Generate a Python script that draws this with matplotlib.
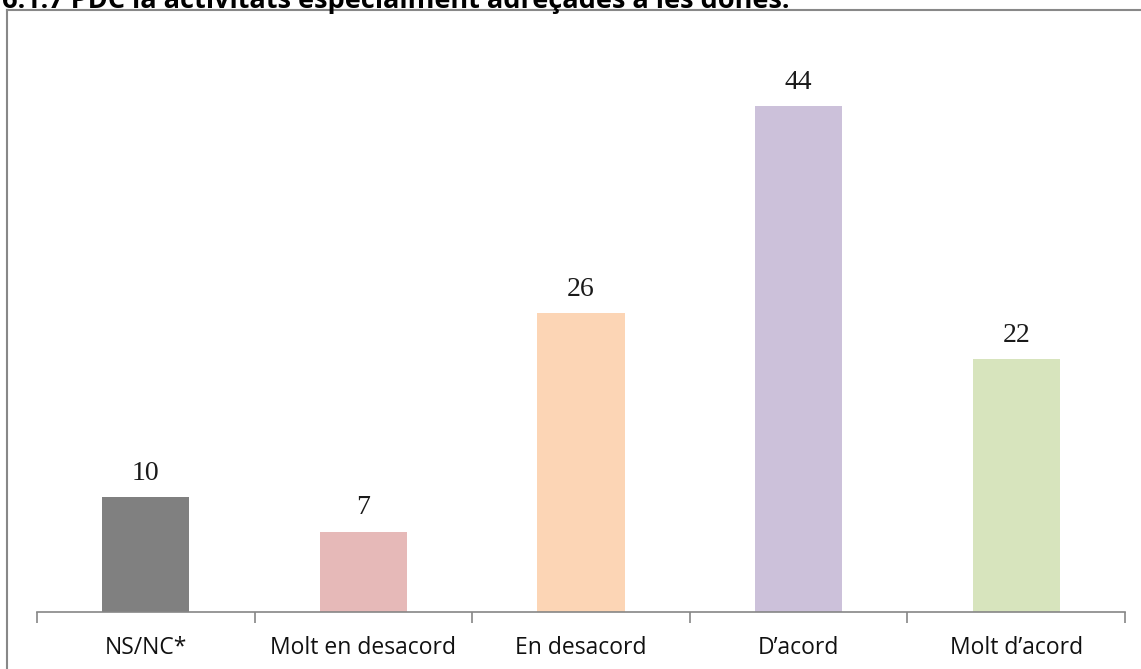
import numpy as np
import matplotlib.pyplot as plt
from matplotlib.lines import Line2D

categories = ["NS/NC*", "Molt en desacord", "En desacord", "D\u2019acord", "Molt d\u2019acord"]
values = [10, 7, 26, 44, 22]
colors = ["#808080", "#E6B9B8", "#FCD5B5", "#CCC1DA", "#D7E4BD"]
title = "6.1.7 PDC la activitats especialment adre\u00e7ades a les dones."

W, H = 1141, 669
fig = plt.figure(figsize=(W / 100, H / 100), dpi=100)
ax = fig.add_axes([37 / W, 1 - 612 / H, (1125 - 37) / W, (612 - 37) / H])

x = np.arange(len(categories))
ax.bar(x, values, width=0.4, color=colors)
for xi, v in zip(x, values):
    ax.annotate(str(v), (xi, v), xytext=(0, 12.5), textcoords="offset points",
                ha="center", va="baseline", fontsize=20,
                family="Liberation Serif", color="#1a1a1a")

ax.set_xlim(-0.5, len(categories) - 0.5)
ax.set_ylim(0, 50)
ax.set_yticks([])
ax.set_xticks(x)
ax.set_xticklabels(categories, fontsize=16.5, family="Open Sans", color="#111111")
ax.tick_params(axis="x", which="major", length=0, pad=17)
ax.set_xticks(np.arange(-0.5, len(categories)), minor=True)
ax.tick_params(axis="x", which="minor", length=8, color="#868686", width=1.2)
for s in ["top", "right", "left"]:
    ax.spines[s].set_visible(False)
ax.spines["bottom"].set_color("#868686")
ax.spines["bottom"].set_linewidth(1.2)

# outer frame (left and top edges visible)
fig.add_artist(Line2D([7 / W, 7 / W], [0, 1 - 10 / H], transform=fig.transFigure,
                      color="#888888", lw=1.5))
fig.add_artist(Line2D([7 / W, 1], [1 - 10 / H, 1 - 10 / H], transform=fig.transFigure,
                      color="#888888", lw=1.5))

# title, clipped at the top edge as in the source
fig.text(2 / W, 1 - 8 / H, title, ha="left", va="baseline",
         fontsize=19.5, fontweight="bold", family="Open Sans")

fig.savefig("out.png", dpi=100)
